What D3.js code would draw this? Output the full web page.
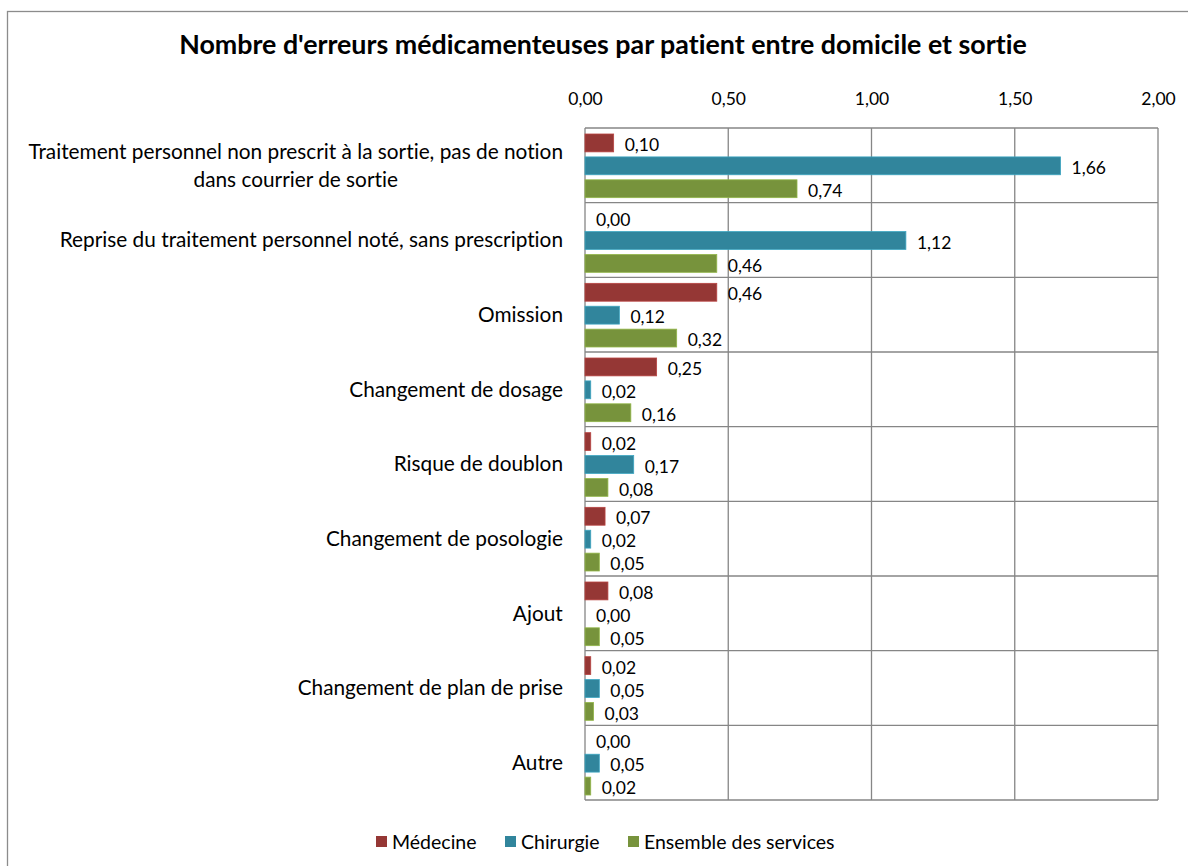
<!DOCTYPE html>
<html>
<head>
<meta charset="utf-8">
<script src="https://cdn.jsdelivr.net/npm/d3@7"></script>
<style>
  body { margin: 0; background: #fff; }
  svg text { font-family: Lato, "Noto Sans", sans-serif; fill: #000; font-variant-ligatures: none; }
</style>
</head>
<body>
<div id="chart"></div>
<script>
// data
const categories = [
  ["Traitement personnel non prescrit à la sortie, pas de notion", "dans courrier de sortie"],
  ["Reprise du traitement personnel noté, sans prescription"],
  ["Omission"],
  ["Changement de dosage"],
  ["Risque de doublon"],
  ["Changement de posologie"],
  ["Ajout"],
  ["Changement de plan de prise"],
  ["Autre"]
]
const series_names = ["Médecine", "Chirurgie", "Ensemble des services"]
const medecine = [0.10, 0.00, 0.46, 0.25, 0.02, 0.07, 0.08, 0.02, 0.00]
const chirurgie = [1.66, 1.12, 0.12, 0.02, 0.17, 0.02, 0.00, 0.05, 0.05]
const ensemble = [0.74, 0.46, 0.32, 0.16, 0.08, 0.05, 0.05, 0.03, 0.02]
const x_ticks = [0, 0.5, 1, 1.5, 2]
const colors = ["#953735", "#31859c", "#77933c"]
const title = "Nombre d'erreurs médicamenteuses par patient entre domicile et sortie"

const W = 1188, H = 866
const margin = {top: 128, left: 585, right: 30, bottom: 66}
const width = 1158 - margin.left
const height = 800 - margin.top
const fmt = v => d3.format(".2f")(v).replace(".", ",")

let svg = d3.select("#chart").append("svg")
    .attr("width", W)
    .attr("height", H)

// outer chart border
svg.append("rect")
    .attr("x", 7.5).attr("y", 11.5)
    .attr("width", W + 20).attr("height", H + 20)
    .attr("fill", "none")
    .attr("stroke", "#8c8c8c")
    .attr("stroke-width", 1.3)

svg.append("text")
    .attr("x", 603).attr("y", 54)
    .attr("text-anchor", "middle")
    .style("font-size", "26.8px")
    .style("font-weight", "bold")
    .text(title)

let g = svg.append("g")
    .attr("transform", "translate(" + margin.left + "," + margin.top + ")")

const x = d3.scaleLinear().domain([0, 2]).range([0, width])
const y = d3.scaleBand().domain(d3.range(categories.length)).range([0, height])
const inner = d3.scaleBand().domain(d3.range(3)).range([6, y.bandwidth() - 5]).paddingInner(0.22)

// vertical gridlines + top labels
g.append("g")
    .attr("class", "xaxis")
    .call(d3.axisTop(x)
        .tickValues(x_ticks)
        .tickSizeInner(0)
        .tickSizeOuter(0)
        .tickPadding(23)
        .tickFormat(fmt))
    .call(a => a.select(".domain").remove())
    .call(a => a.selectAll("text").style("font-size", "17.5px").attr("fill", "#000"))

g.selectAll(".vgrid")
    .data(x_ticks)
    .enter()
    .append("line")
    .attr("x1", d => x(d)).attr("x2", d => x(d))
    .attr("y1", 0).attr("y2", height)
    .attr("stroke", "#868686")
    .attr("stroke-width", 1.3)

g.selectAll(".hgrid")
    .data(d3.range(categories.length + 1))
    .enter()
    .append("line")
    .attr("x1", 0).attr("x2", width)
    .attr("y1", d => d * y.step()).attr("y2", d => d * y.step())
    .attr("stroke", "#868686")
    .attr("stroke-width", 1.3)

// category labels
categories.forEach(function (lines, i) {
    let t = g.append("text")
        .attr("text-anchor", "middle")
        .style("font-size", "20.8px")
    const cy = y(i) + y.bandwidth() / 2
    const lh = 28
    lines.forEach(function (ln, k) {
        t.append("tspan")
            .attr("x", 0)
            .attr("y", cy + (k - (lines.length - 1) / 2) * lh)
            .attr("dy", "0.35em")
            .text(ln)
    })
    // right align the block, centre the lines within it
    const bw = t.node().getBBox().width
    t.selectAll("tspan").attr("x", -22 - bw / 2)
})

// bars
const all_series = [medecine, chirurgie, ensemble]
all_series.forEach(function (vals, s) {
    g.selectAll(".bar" + s)
        .data(vals)
        .enter()
        .append("rect")
        .attr("x", 0)
        .attr("y", (d, i) => y(i) + inner(s))
        .attr("width", d => x(d))
        .attr("height", inner.bandwidth())
        .attr("fill", colors[s])
        .attr("stroke", d3.color(colors[s]).brighter(0.6))
        .attr("stroke-width", 0.8)

    g.selectAll(".lab" + s)
        .data(vals)
        .enter()
        .append("text")
        .attr("x", d => x(d) + 11)
        .attr("y", (d, i) => y(i) + inner(s) + inner.bandwidth() / 2 + 2)
        .attr("dy", "0.35em")
        .style("font-size", "17.5px")
        .text(d => fmt(d))
})

// legend
const legend_x = [376, 505, 628]
let legend = svg.append("g").attr("transform", "translate(0,842)")
series_names.forEach(function (name, i) {
    legend.append("rect")
        .attr("x", legend_x[i]).attr("y", -6)
        .attr("width", 11).attr("height", 11)
        .attr("fill", colors[i])
    legend.append("text")
        .attr("x", legend_x[i] + 16).attr("y", 0)
        .attr("dy", "0.35em")
        .style("font-size", "19.5px")
        .text(name)
})
</script>
</body>
</html>
